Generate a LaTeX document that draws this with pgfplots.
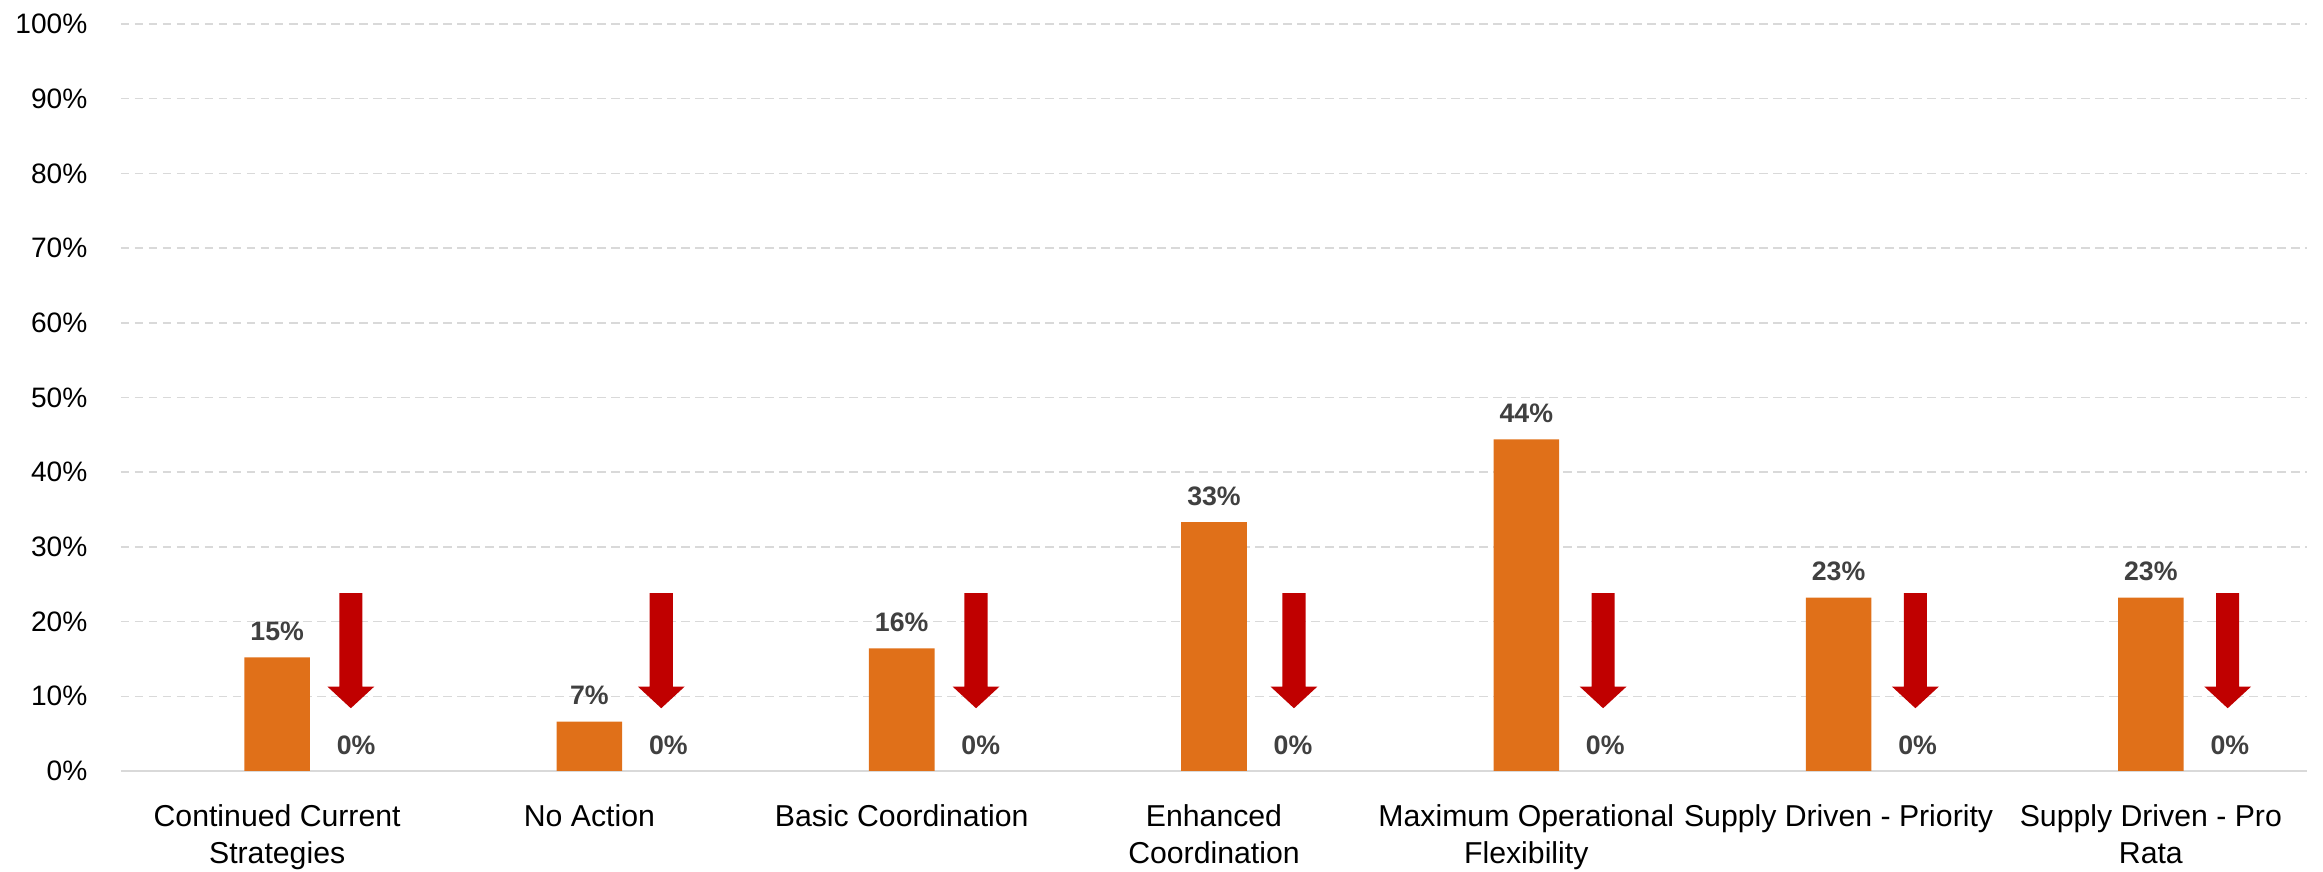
\documentclass[border=0pt]{standalone}
\usepackage{pgfplots}
\pgfplotsset{compat=1.18}
\usepackage{fontspec}
\setmainfont{Liberation Sans}

\definecolor{barorange}{HTML}{E07019}
\definecolor{arrowred}{HTML}{C00000}
\definecolor{labelgray}{HTML}{404040}
\definecolor{gridgray}{HTML}{D9D9D9}

\begin{document}
\begin{tikzpicture}
\begin{axis}[
    width=218.6mm, height=74.7mm, scale only axis,
    xmin=-0.5, xmax=6.5, ymin=0, ymax=100,
    axis x line*=bottom, axis y line*=left,
    x axis line style={draw=gridgray, line width=0.2mm, -},
    y axis line style={draw=none},
    major tick length=0,
    ytick={0,10,...,100},
    yticklabels={0\%,10\%,20\%,30\%,40\%,50\%,60\%,70\%,80\%,90\%,100\%},
    yticklabel style={font=\fontsize{8}{9}\selectfont, inner sep=0, xshift=-3.3mm},
    xtick={0,1,2,3,4,5,6},
    xticklabels={Continued Current\\Strategies, No Action, Basic Coordination,
        Enhanced\\Coordination, Maximum Operational\\Flexibility,
        Supply Driven - Priority, Supply Driven - Pro\\Rata},
    xticklabel style={font=\fontsize{8.6}{10.5}\selectfont, align=center, inner sep=0, yshift=-3.3mm},
    ymajorgrids,
    major grid style={draw=gridgray, line width=0.15mm, dash pattern=on 0.85mm off 0.55mm},
    every node near coord/.append style={font=\fontsize{7.6}{8}\selectfont\bfseries,
        text=labelgray, inner sep=0, yshift=1.6mm},
]
% share of scenarios
\addplot[ybar, bar width=0.21, fill=barorange, draw=none,
    nodes near coords={\pgfmathprintnumber[fixed,precision=0,assume math mode=true]{\pgfplotspointmeta}\%}]
    coordinates {(0,15.2) (1,6.6) (2,16.4) (3,33.3) (4,44.4) (5,23.2) (6,23.2)};
% second series, all zero (sits 0.253 category widths to the right)
\addplot[ybar, bar width=0.21, fill=none, draw=none,
    nodes near coords={\pgfmathprintnumber[fixed,precision=0,assume math mode=true]{\pgfplotspointmeta}\%},
    every node near coord/.append style={xshift=7.9mm}]
    coordinates {(0,0) (1,0) (2,0) (3,0) (4,0) (5,0) (6,0)};

% down arrows
\addplot[fill=arrowred, draw=none] coordinates {(0.199,23.8) (0.273,23.8) (0.273,11.3) (0.311,11.3) (0.236,8.4) (0.161,11.3) (0.199,11.3)};
\addplot[fill=arrowred, draw=none] coordinates {(1.193,23.8) (1.267,23.8) (1.267,11.3) (1.305,11.3) (1.230,8.4) (1.155,11.3) (1.193,11.3)};
\addplot[fill=arrowred, draw=none] coordinates {(2.201,23.8) (2.275,23.8) (2.275,11.3) (2.313,11.3) (2.238,8.4) (2.163,11.3) (2.201,11.3)};
\addplot[fill=arrowred, draw=none] coordinates {(3.219,23.8) (3.293,23.8) (3.293,11.3) (3.331,11.3) (3.256,8.4) (3.181,11.3) (3.219,11.3)};
\addplot[fill=arrowred, draw=none] coordinates {(4.209,23.8) (4.283,23.8) (4.283,11.3) (4.321,11.3) (4.246,8.4) (4.171,11.3) (4.209,11.3)};
\addplot[fill=arrowred, draw=none] coordinates {(5.209,23.8) (5.283,23.8) (5.283,11.3) (5.321,11.3) (5.246,8.4) (5.171,11.3) (5.209,11.3)};
\addplot[fill=arrowred, draw=none] coordinates {(6.209,23.8) (6.283,23.8) (6.283,11.3) (6.321,11.3) (6.246,8.4) (6.171,11.3) (6.209,11.3)};
\end{axis}
% page margins around the plot area
\path (current axis.south west) ++(-12.1mm,-10.1mm);
\path (current axis.north east) ++(1.6mm,2.4mm);
\end{tikzpicture}
\end{document}
